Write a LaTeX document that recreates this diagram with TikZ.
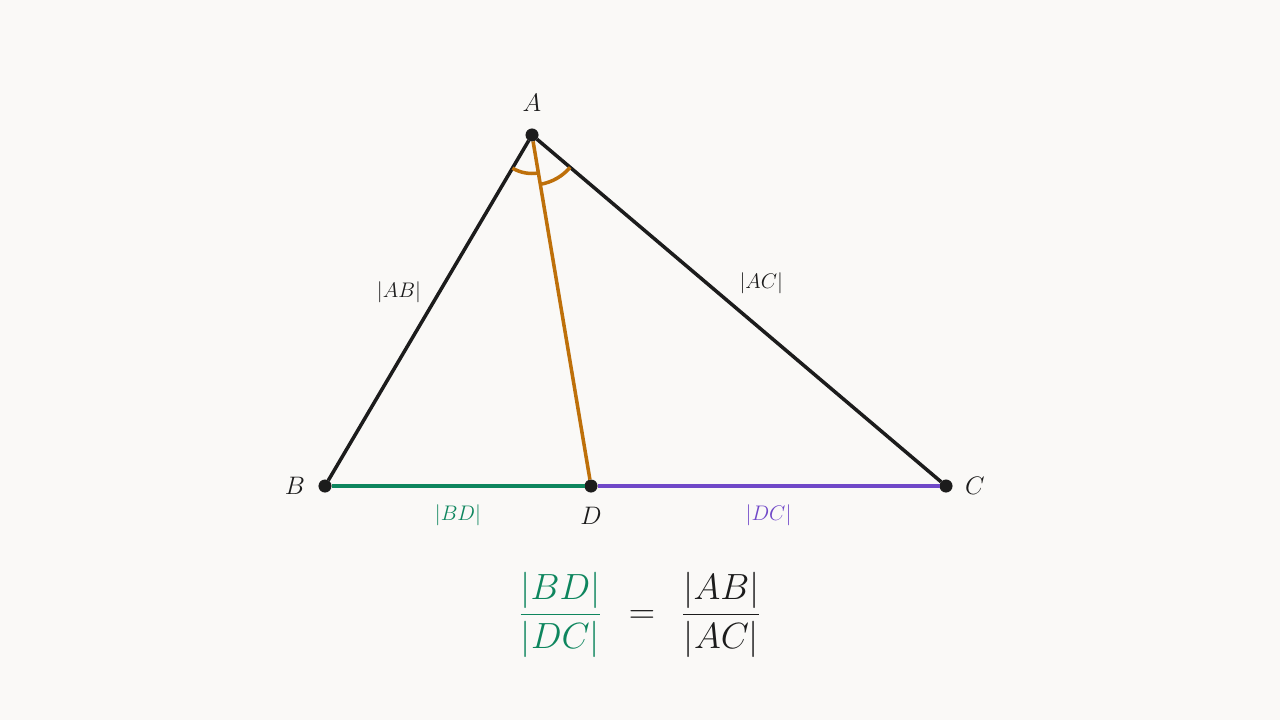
\documentclass[tikz,border=0pt]{standalone}
\usepackage{color}
\definecolor{mybg}{RGB}{250,249,247}
\definecolor{myink}{RGB}{28,28,28}
\definecolor{mygreen}{RGB}{14,134,94}
\definecolor{mypurple}{RGB}{112,72,200}
\definecolor{myorange}{RGB}{190,112,10}
\usepackage{tikz}
\usetikzlibrary{angles,positioning}
\tikzstyle{vertex}=[draw=myink,fill=myink,circle,minimum size=7pt,inner sep=0pt]
\tikzstyle{side}=[draw=myink,line width=2pt]
\tikzstyle{anglemark}=[draw=myorange,line width=2pt]
\tikzstyle{ptlabel}=[text=myink,font=\fontsize{15}{18}\selectfont]
\tikzstyle{lenlabel}=[text=myink,font=\fontsize{12}{14}\selectfont]

\begin{document}
\begin{tikzpicture}[x=0.02cm,y=-0.02cm]
\fill[mybg] (0,0) rectangle (1280,720);
\draw (532,135) node [vertex] (vA) {};
\draw (325,486) node [vertex] (vB) {};
\draw (946,486) node [vertex] (vC) {};
\draw (591,486) node [vertex] (vD) {};
\node[ptlabel] (lA) at (532,103) {$A$};
\node[ptlabel] (lB) at (295,486) {$B$};
\node[ptlabel] (lC) at (975,486) {$C$};
\node[ptlabel] (lD) at (591,516) {$D$};
\draw[side] (vA) -- (vB) node[midway, above left, lenlabel] (lAB) {$|AB|$};
\draw[side] (vA) -- (vC) node[midway, above right=5pt and -4pt, lenlabel] (lAC) {$|AC|$};
\draw[side, draw=mygreen] (vB) -- (vD) node[midway, below=6.5pt, lenlabel, text=mygreen] (lBD) {$|BD|$};
\draw[side, draw=mypurple] (vD) -- (vC) node[midway, below=6.5pt, lenlabel, text=mypurple] (lDC) {$|DC|$};
\draw[side, draw=myorange] (vA) -- (vD);
\pic[anglemark, angle radius=0.77cm] {angle=vB--vA--vD};
\pic[anglemark, angle radius=1.0cm] {angle=vD--vA--vC};
\node[text=myink,font=\fontsize{22.5}{26}\selectfont] (ratio) at (640,615)
  {$\displaystyle {\color{mygreen}\frac{|BD|}{|DC|}}\;\,=\;\,\frac{|AB|}{|AC|}$};
\end{tikzpicture}
\end{document}
